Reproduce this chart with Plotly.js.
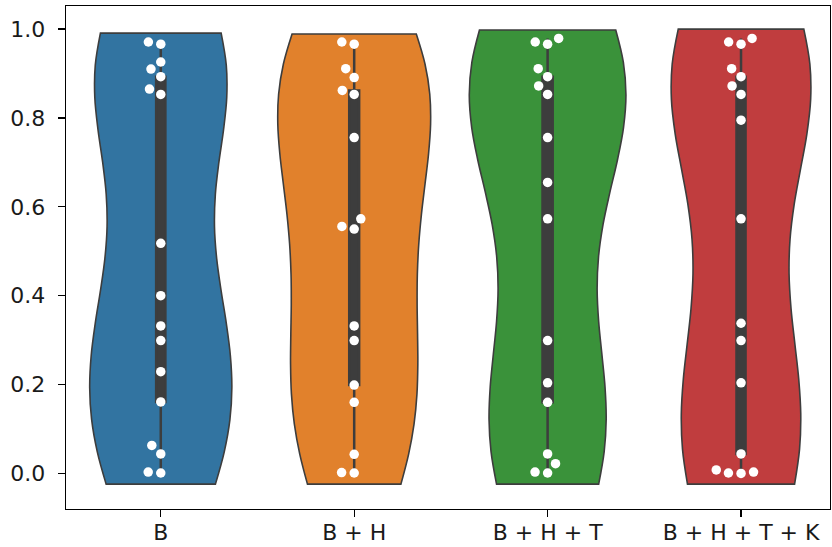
<!DOCTYPE html>
<html><head><meta charset="utf-8">
<script src="https://cdn.plot.ly/plotly-3.0.1.min.js"></script>
<style>html,body{margin:0;padding:0;background:#fff}</style>
</head><body><div id="chart" style="width:832px;height:547px"></div>
<script>
// ---- data ----
const categories = ['B', 'B + H', 'B + H + T', 'B + H + T + K'];
const colors = ['#3274a1', '#e1812c', '#3a923a', '#c03d3e'];
const valsB    = [0.971, 0.966, 0.926, 0.910, 0.893, 0.865, 0.853, 0.518, 0.400, 0.332, 0.299, 0.229, 0.161, 0.063, 0.044, 0.003, 0.001];
const valsBH   = [0.971, 0.966, 0.911, 0.891, 0.862, 0.853, 0.756, 0.573, 0.556, 0.550, 0.332, 0.299, 0.199, 0.160, 0.043, 0.002, 0.001];
const valsBHT  = [0.979, 0.971, 0.966, 0.911, 0.893, 0.872, 0.853, 0.756, 0.655, 0.573, 0.299, 0.204, 0.160, 0.044, 0.022, 0.003, 0.001];
const valsBHTK = [0.979, 0.971, 0.966, 0.911, 0.893, 0.872, 0.853, 0.795, 0.573, 0.338, 0.299, 0.204, 0.044, 0.008, 0.003, 0.001, 0.000];
const spanLow  = [-0.024, -0.024, -0.024, -0.024];
const spanHigh = [0.991, 0.989, 0.998, 1.000];
const yTicks = [0, 0.2, 0.4, 0.6, 0.8, 1.0];

const series = [valsB, valsBH, valsBHT, valsBHTK];

// ---- styling / geometry ----
const violinWidths = [0.735, 0.79, 0.81, 0.72];  // max width of each violin (x units)
const W = 832, H = 547;
const M = {l: 66, r: 2, t: 6, b: 38};
const xRange = [-0.49, 3.46];
const yRange = [-0.08, 1.052];
const pxPerX = (W - M.l - M.r) / (xRange[1] - xRange[0]);
const pxPerY = (H - M.t - M.b) / (yRange[1] - yRange[0]);
const dotR = 6; // collision radius in px (seaborn-like swarm)
const bwScale = 1.05;

function scottBw(v) {
  const n = v.length;
  const mean = v.reduce((a, b) => a + b, 0) / n;
  const varc = v.reduce((a, b) => a + (b - mean) * (b - mean), 0) / (n - 1);
  return Math.sqrt(varc) * Math.pow(n, -0.2);
}

function beeswarm(vals, r) {
  const sorted = vals.slice().sort((a, b) => a - b);
  const pts = sorted.map(v => ({x: 0, y: v * pxPerY, v: v}));
  const swarm = [pts[0]];
  for (let i = 1; i < pts.length; i++) {
    const p = pts[i];
    const neigh = [];
    for (let j = swarm.length - 1; j >= 0; j--) {
      if (p.y - swarm[j].y < 2 * r) neigh.push(swarm[j]); else break;
    }
    neigh.reverse();
    const cands = [0];
    let leftFirst = true;
    for (const q of neigh) {
      const dy = p.y - q.y;
      const dx = Math.sqrt(Math.max(4 * r * r - dy * dy, 0)) * 1.05;
      const cl = q.x - dx, cr = q.x + dx;
      if (leftFirst) cands.push(cl, cr); else cands.push(cr, cl);
      leftFirst = !leftFirst;
    }
    const order = cands.map((c, k) => ({c, k}))
      .sort((a, b) => (Math.abs(a.c) - Math.abs(b.c)) || (a.k - b.k));
    let chosen = order[0].c;
    if (neigh.length) {
      for (const o of order) {
        const ok = neigh.every(q => {
          const dx = q.x - o.c, dy = q.y - p.y;
          return dx * dx + dy * dy >= 4 * r * r - 1e-9;
        });
        if (ok) { chosen = o.c; break; }
      }
    }
    p.x = chosen;
    swarm.push(p);
  }
  return swarm;
}

const traces = [];
series.forEach((vals, i) => {
  traces.push({
    type: 'violin', x0: i, y: vals, name: categories[i],
    width: violinWidths[i], scalemode: 'width',
    spanmode: 'manual', span: [spanLow[i], spanHigh[i]],
    bandwidth: scottBw(vals) * bwScale,
    quartilemethod: 'inclusive',
    fillcolor: colors[i],
    line: {color: '#3d3d3d', width: 1.6},
    points: false,
    box: {visible: true, width: 0.065, fillcolor: '#3d3d3d', line: {color: '#3d3d3d', width: 2.5}},
    meanline: {visible: false},
    showlegend: false, hoverinfo: 'skip'
  });
});
series.forEach((vals, i) => {
  const sw = beeswarm(vals, dotR);
  traces.push({
    type: 'scatter', mode: 'markers',
    x: sw.map(p => i + p.x / pxPerX),
    y: sw.map(p => p.v),
    marker: {color: '#ffffff', size: 9.5, line: {width: 0}},
    showlegend: false, hoverinfo: 'skip'
  });
});

const axisFont = {family: 'DejaVu Sans', size: 22, color: '#1a1a1a'};
const layout = {
  width: W, height: H,
  margin: M,
  paper_bgcolor: '#ffffff', plot_bgcolor: '#ffffff',
  violinmode: 'overlay',
  showlegend: false,
  xaxis: {
    type: 'linear', range: xRange,
    tickmode: 'array', tickvals: categories.map((c, i) => i), ticktext: categories,
    showline: true, mirror: true, linecolor: '#000', linewidth: 1.3,
    ticks: 'outside', ticklen: 7, tickwidth: 1.3, tickcolor: '#000',
    ticklabelstandoff: -4,
    showgrid: false, zeroline: false, tickfont: axisFont
  },
  yaxis: {
    type: 'linear', range: yRange,
    tickmode: 'array', tickvals: yTicks, ticktext: yTicks.map(v => v.toFixed(1)),
    showline: true, mirror: true, linecolor: '#000', linewidth: 1.3,
    ticks: 'outside', ticklen: 7, tickwidth: 1.3, tickcolor: '#000',
    ticklabelstandoff: 8,
    showgrid: false, zeroline: false, tickfont: axisFont
  }
};

Plotly.newPlot('chart', traces, layout, {staticPlot: true, displayModeBar: false});
</script>
</body></html>
